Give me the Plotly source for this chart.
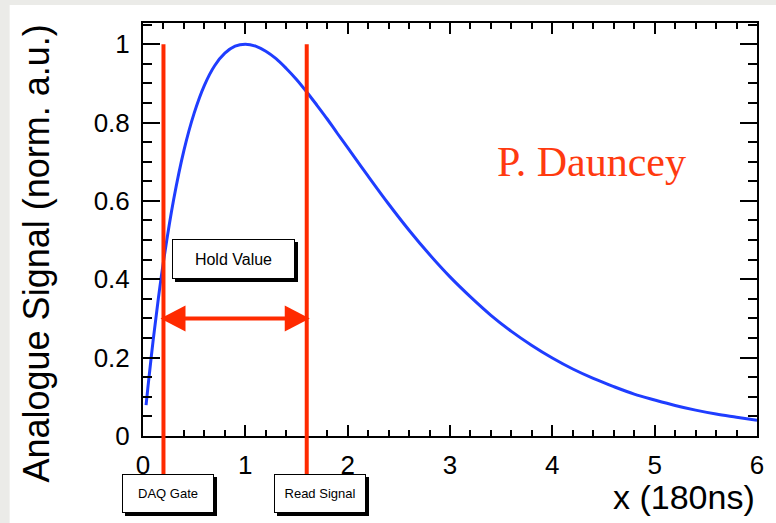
import plotly.graph_objects as go

# ---- data ----
x_vals = [0.03, 0.05, 0.1, 0.15, 0.2, 0.3, 0.4, 0.5, 0.6, 0.7, 0.8, 0.9, 1.0,
          1.1, 1.2, 1.3, 1.4, 1.5, 1.6, 1.7, 1.8, 1.9, 2.0, 2.2, 2.4, 2.6,
          2.8, 3.0, 3.2, 3.4, 3.6, 3.8, 4.0, 4.2, 4.4, 4.6, 4.8, 5.0, 5.2,
          5.4, 5.6, 5.8, 6.0]
signal = [0.079, 0.129, 0.246, 0.351, 0.445, 0.604, 0.729, 0.824, 0.895, 0.945,
          0.977, 0.995, 1.000, 0.995, 0.982, 0.963, 0.938, 0.910, 0.878, 0.844,
          0.809, 0.772, 0.736, 0.663, 0.592, 0.525, 0.463, 0.406, 0.355, 0.308,
          0.267, 0.231, 0.199, 0.171, 0.147, 0.126, 0.107, 0.092, 0.078, 0.066,
          0.056, 0.048, 0.040]

daq_gate_x = 0.2
read_signal_x = 1.6
marker_top = 1.0
hold_arrow_y = 0.3
x_range = [0, 6]
y_range = [0, 1.054]
x_ticks = [0, 1, 2, 3, 4, 5, 6]
y_ticks = [0, 0.2, 0.4, 0.6, 0.8, 1.0]
y_tick_text = ["0", "0.2", "0.4", "0.6", "0.8", "1"]

RED = "#ff2a00"
BLUE = "#1f3dff"
GREY = "#ebebe8"
FONT = "Liberation Sans, Arial, sans-serif"

fig = go.Figure()
fig.add_trace(go.Scatter(x=x_vals, y=signal, mode="lines",
                         line=dict(color=BLUE, width=3, shape="spline"),
                         showlegend=False, hoverinfo="skip"))

L, R, T, B = 143, 16, 23, 87
PW = 776 - L - R
PH = 523 - T - B

def px(xp):
    return (xp - L) / PW

def py(yp):
    return (523 - B - yp) / PH

def to_paper(v):
    return (v - y_range[0]) / (y_range[1] - y_range[0])

shapes = []
# light grey backdrop strips on the left and top of the white panel
shapes.append(dict(type="rect", xref="paper", yref="paper",
                   x0=px(-5), x1=px(9), y0=py(540), y1=py(-5),
                   fillcolor=GREY, line=dict(width=0), layer="below"))
shapes.append(dict(type="rect", xref="paper", yref="paper",
                   x0=px(-5), x1=px(790), y0=py(5), y1=py(-5),
                   fillcolor=GREY, line=dict(width=0), layer="below"))
# vertical red markers (extend below the axis to the label boxes)
for xv in (daq_gate_x, read_signal_x):
    shapes.append(dict(type="line", xref="x", yref="paper",
                       x0=xv, x1=xv, y0=py(477), y1=to_paper(marker_top),
                       line=dict(color=RED, width=4)))
# hold arrow shaft
shapes.append(dict(type="line", xref="x", yref="y",
                   x0=daq_gate_x + 0.1, x1=read_signal_x - 0.1,
                   y0=hold_arrow_y, y1=hold_arrow_y,
                   line=dict(color=RED, width=4)))
# arrow heads (pixel-sized, anchored at data points)
shapes.append(dict(type="path", xref="x", yref="y", xsizemode="pixel", ysizemode="pixel",
                   xanchor=daq_gate_x, yanchor=hold_arrow_y,
                   path="M -3,0 L 22,13 L 22,-13 Z",
                   fillcolor=RED, line=dict(color=RED, width=0)))
shapes.append(dict(type="path", xref="x", yref="y", xsizemode="pixel", ysizemode="pixel",
                   xanchor=read_signal_x, yanchor=hold_arrow_y,
                   path="M 3,0 L -22,13 L -22,-13 Z",
                   fillcolor=RED, line=dict(color=RED, width=0)))

annotations = []

def boxed(text, xpaper, ypaper, w, h, size):
    # shadow
    annotations.append(dict(text="", x=xpaper, y=ypaper, xref="paper", yref="paper",
                            xanchor="center", yanchor="middle",
                            showarrow=False, width=w, height=h, bgcolor="black",
                            borderpad=0, borderwidth=1, bordercolor="black",
                            xshift=3, yshift=-3))
    annotations.append(dict(text=text, x=xpaper, y=ypaper, xref="paper", yref="paper",
                            xanchor="center", yanchor="middle",
                            showarrow=False, width=w, height=h, bgcolor="white",
                            borderpad=0, borderwidth=1, bordercolor="black",
                            font=dict(family=FONT, size=size, color="black")))

boxed("DAQ Gate", px(168), py(494), 90, 37, 13)
boxed("Read Signal", px(321), py(494), 90, 37, 13)
boxed("Hold Value", px(234), py(259), 121, 38, 16)

annotations.append(dict(text="P. Dauncey", x=4.38, y=0.70, xref="x", yref="y",
                        showarrow=False,
                        font=dict(family="Liberation Serif, Times New Roman, serif",
                                  size=42, color="#ff3a10")))
annotations.append(dict(text="x (180ns)", x=1.0, y=py(497), xref="paper", yref="paper",
                        xanchor="right", yanchor="middle", showarrow=False,
                        font=dict(family=FONT, size=34, color="black")))
annotations.append(dict(text="Analogue Signal (norm. a.u.)", x=px(35), y=py(254),
                        xref="paper", yref="paper", textangle=-90,
                        xanchor="center", yanchor="middle", showarrow=False,
                        font=dict(family=FONT, size=36, color="black")))

fig.update_layout(
    width=776, height=523,
    margin=dict(l=L, r=R, t=T, b=B),
    paper_bgcolor="white",
    plot_bgcolor="white",
    shapes=shapes,
    annotations=annotations,
    xaxis=dict(range=x_range, tickvals=x_ticks, ticks="inside", ticklen=11,
               tickwidth=2, tickcolor="black", showline=True, linecolor="black",
               linewidth=2, mirror="allticks", showgrid=False, zeroline=False,
               tickfont=dict(family=FONT, size=26, color="black"),
               ticklabelstandoff=5,
               minor=dict(dtick=0.2, ticks="inside", ticklen=6, tickwidth=2,
                          tickcolor="black", showgrid=False)),
    yaxis=dict(range=y_range, tickvals=y_ticks, ticktext=y_tick_text,
               ticks="inside", ticklen=17,
               tickwidth=2, tickcolor="black", showline=True, linecolor="black",
               linewidth=2, mirror="allticks", showgrid=False, zeroline=False,
               tickfont=dict(family=FONT, size=26, color="black"),
               ticklabelstandoff=6,
               minor=dict(dtick=0.05, ticks="inside", ticklen=9, tickwidth=2,
                          tickcolor="black", showgrid=False)),
)

fig.write_html("out.html")
